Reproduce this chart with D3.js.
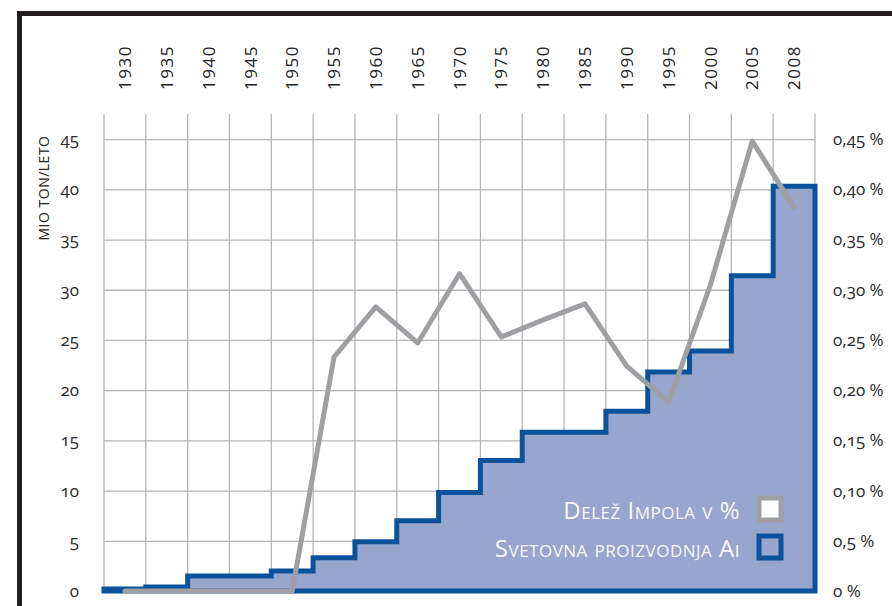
<!DOCTYPE html>
<html>
<head>
<meta charset="utf-8">
<script src="https://cdn.jsdelivr.net/npm/d3@7"></script>
<style>
body { margin: 0; background: #fff; }
svg { display: block; font-family: "Open Sans", sans-serif; }
.num { font-variant-numeric: oldstyle-nums; }
</style>
</head>
<body>
<div class="one"></div>
<script>
let years = ["1930","1935","1940","1945","1950","1955","1960","1965","1970","1975","1980","1985","1990","1995","2000","2005","2008"];
let production = [0.2, 0.4, 1.5, 1.5, 2.0, 3.3, 4.9, 7.0, 9.8, 13.0, 15.8, 15.8, 17.9, 21.8, 23.9, 31.4, 40.3];
let impolShare = [0, 0, 0, 0, 0, 0.233, 0.283, 0.247, 0.316, 0.253, 0.270, 0.286, 0.224, 0.188, 0.305, 0.448, 0.382];
let leftTicks = [0, 5, 10, 15, 20, 25, 30, 35, 40, 45];
let rightTicks = [0, 0.05, 0.10, 0.15, 0.20, 0.25, 0.30, 0.35, 0.40, 0.45];
let rightLabels = ["0 %", "0,5 %", "0,10 %", "0,15 %", "0,20 %", "0,25 %", "0,30 %", "0,35 %", "0,40 %", "0,45 %"];
let legendLabels = ["Delež Impola v %", "Svetovna proizvodnja Ai"];

let plot_chart = function() {
  let width = 892, height = 606;
  let left = 104, right = 815, top = 114, bottom = 591;
  let blue = "#0a539c", fill = "#98a5cc", grey = "#9fa0a3", gridCol = "#b5b5b8";

  let svg = d3.select(".one").append("svg")
    .attr("width", width)
    .attr("height", height);

  // frame
  svg.append("path")
    .attr("d", "M19.5,606 V13.5 H892")
    .attr("fill", "none")
    .attr("stroke", "#231f20")
    .attr("stroke-width", 5);

  let x = d3.scaleBand().domain(years).range([left, right]);
  let y = d3.scaleLinear().domain([0, 47.5]).range([bottom, top]);
  let yPct = d3.scaleLinear().domain([0, 0.475]).range([bottom, top]);

  // vertical grid
  let edges = years.map(function(d) { return x(d); }).concat([right]);
  svg.append("g").selectAll("line")
    .data(edges)
    .join("line")
    .attr("x1", function(d) { return d; })
    .attr("x2", function(d) { return d; })
    .attr("y1", top)
    .attr("y2", bottom)
    .attr("stroke", gridCol)
    .attr("stroke-width", 1.3);

  // left axis with horizontal grid
  let yAxis = d3.axisLeft(y).tickValues(leftTicks).tickSize(-(right - left)).tickPadding(25);
  let ya = svg.append("g")
    .attr("transform", "translate(" + left + ",0)")
    .call(yAxis);
  ya.select(".domain").remove();
  ya.selectAll(".tick line").attr("stroke", gridCol).attr("stroke-width", 1.3);
  ya.selectAll(".tick text")
    .attr("class", "num")
    .attr("fill", "#2a2a2a")
    .style("font-size", "17px")
    .style("font-family", "Open Sans");

  // right axis
  let yAxisR = d3.axisRight(yPct).tickValues(rightTicks).tickSize(0).tickPadding(18)
    .tickFormat(function(d, i) { return rightLabels[i]; });
  let yr = svg.append("g")
    .attr("transform", "translate(" + right + ",0)")
    .call(yAxisR);
  yr.select(".domain").remove();
  yr.selectAll(".tick text")
    .attr("class", "num")
    .attr("fill", "#2a2a2a")
    .style("font-size", "17px")
    .style("font-family", "Open Sans");

  // year labels on top
  svg.append("g").selectAll("text")
    .data(years)
    .join("text")
    .attr("transform", function(d) { return "translate(" + (x(d) + x.bandwidth() / 2) + ",90) rotate(-90)"; })
    .attr("dy", "0.36em")
    .attr("fill", "#222")
    .style("font-size", "17px")
    .style("letter-spacing", "1.5px")
    .text(function(d) { return d; });

  // axis title
  svg.append("text")
    .attr("transform", "translate(49,188) rotate(-90)")
    .attr("text-anchor", "middle")
    .attr("fill", "#222")
    .style("font-size", "14px")
    .style("letter-spacing", "0.5px")
    .text("MIO TON/LETO");

  // production steps
  let stepData = production.map(function(v, i) { return {x: x(years[i]), v: v}; });
  stepData.push({x: right, v: production[production.length - 1]});
  let area = d3.area()
    .curve(d3.curveStepAfter)
    .x(function(d) { return d.x; })
    .y0(y(0))
    .y1(function(d) { return y(d.v); });

  svg.append("path")
    .datum(stepData)
    .attr("d", function(d) { return area(d) + "Z"; })
    .attr("fill", fill)
    .attr("stroke", blue)
    .attr("stroke-width", 5);

  // Impol share line
  let line = d3.line()
    .x(function(d, i) { return x(years[i]) + x.bandwidth() / 2; })
    .y(function(d) { return yPct(d); });

  svg.append("path")
    .datum(impolShare)
    .attr("d", line)
    .attr("fill", "none")
    .attr("stroke", grey)
    .attr("stroke-width", 5)
    .attr("stroke-linecap", "round")
    .attr("stroke-linejoin", "round");

  // legend
  let legend = svg.append("g");
  let legendStyle = [{stroke: grey, fill: "#fff"}, {stroke: blue, fill: fill}];
  legendLabels.forEach(function(lab, i) {
    let cy = 509 + i * 38;
    legend.append("text")
      .attr("x", 740)
      .attr("y", cy + 10)
      .attr("text-anchor", "end")
      .attr("fill", "#f6f7fb")
      .style("font-size", "24px")
      .style("letter-spacing", "0.5px")
      .style("font-variant", "small-caps")
      .text(lab);
    legend.append("rect")
      .attr("x", 759)
      .attr("y", cy - 11)
      .attr("width", 22)
      .attr("height", 22)
      .attr("fill", legendStyle[i].fill)
      .attr("stroke", legendStyle[i].stroke)
      .attr("stroke-width", 5);
  });
};

window.onload = plot_chart();
</script>
</body>
</html>
